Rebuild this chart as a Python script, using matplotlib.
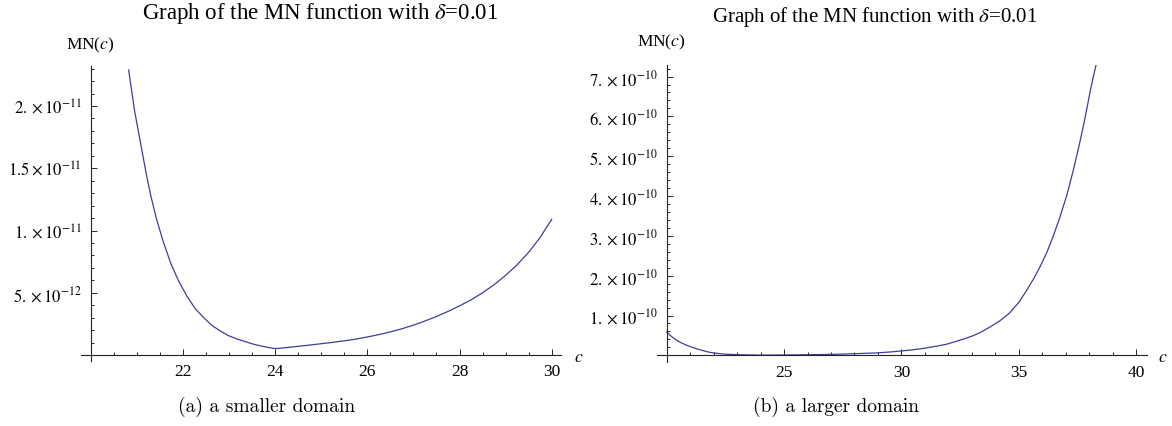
import matplotlib
matplotlib.use('Agg')
import matplotlib.pyplot as plt
from matplotlib.ticker import FixedLocator, FuncFormatter, MultipleLocator

# values
# (a) smaller domain, MN in units of 1e-12
c_small = [20.82, 20.95, 21.10, 21.20, 21.30, 21.42, 21.55, 21.73, 21.91, 22.09,
           22.27, 22.45, 22.62, 22.80, 22.98, 23.16, 23.34, 23.52, 23.70, 23.85,
           24.00, 24.25, 24.50, 24.75, 25.00, 25.25, 25.50, 25.75, 26.00, 26.25,
           26.50, 26.75, 27.00, 27.25, 27.50, 27.75, 28.00, 28.25, 28.50, 28.75,
           29.00, 29.25, 29.50, 29.75, 30.00]
mn_small = [22.9, 19.6, 16.6, 14.6, 12.8, 11.0, 9.35, 7.4, 5.9, 4.7,
            3.7, 3.0, 2.4, 1.95, 1.57, 1.30, 1.09, 0.88, 0.72, 0.61,
            0.51, 0.60, 0.70, 0.80, 0.91, 1.02, 1.14, 1.28, 1.45, 1.64,
            1.86, 2.11, 2.40, 2.73, 3.10, 3.50, 3.95, 4.43, 5.00, 5.65,
            6.40, 7.25, 8.25, 9.45, 10.9]

# (b) larger domain, MN in units of 1e-10
c_large = [20.0, 20.15, 20.3, 20.45, 20.6, 20.8, 21.0, 21.15, 21.3, 21.45,
           21.6, 21.8, 22.0, 22.25, 22.5, 23.0, 24.0, 25.0, 26.0, 27.0,
           28.0, 29.0, 29.5, 30.0, 30.5, 31.0, 31.5, 31.93, 32.3, 32.7,
           33.0, 33.35, 33.8, 34.2, 34.6, 35.0, 35.3, 35.62, 35.9, 36.19,
           36.47, 36.75, 37.05, 37.32, 37.55, 37.75, 37.9, 38.03, 38.16, 38.29]
mn_large = [0.585, 0.50, 0.43, 0.37, 0.32, 0.265, 0.22, 0.19, 0.16, 0.135,
            0.11, 0.08, 0.06, 0.043, 0.03, 0.016, 0.005, 0.009, 0.0145, 0.024,
            0.04, 0.063, 0.083, 0.11, 0.14, 0.18, 0.23, 0.28, 0.345, 0.42,
            0.48, 0.57, 0.72, 0.87, 1.06, 1.33, 1.60, 1.91, 2.22, 2.58,
            3.00, 3.47, 4.03, 4.65, 5.22, 5.76, 6.20, 6.60, 6.96, 7.29]

xticks_small = [22, 24, 26, 28, 30]
yticks_small = [5, 10, 15, 20]          # x 1e-12
xticks_large = [25, 30, 35, 40]
yticks_large = [1, 2, 3, 4, 5, 6, 7]    # x 1e-10

title = r'Graph of the MN function with $\delta$=0.01'
captions = ['(a) a smaller domain', '(b) a larger domain']

plt.rcParams['font.family'] = ['Liberation Serif', 'DejaVu Serif']
plt.rcParams['mathtext.fontset'] = 'stix'

W, H = 1172, 427
line_color = '#3d3d99'
axis_color = '#222222'


def fmt_small(v, pos):
    if abs(v - 5) < 1e-9:
        return r'$5.\times10^{-12}$'
    s = '%g' % (v / 10)
    if '.' not in s:
        s += '.'
    return r'$%s\times10^{-11}$' % s


def fmt_large(v, pos):
    return r'$%d.\times10^{-10}$' % round(v)


def style_axes(ax, xlim, ylim, xmajor, xminor, ymajor, yminor, yfmt):
    ax.set_xlim(*xlim)
    ax.set_ylim(*ylim)
    for s in ['top', 'right']:
        ax.spines[s].set_visible(False)
    ax.spines['left'].set_position(('data', 20))
    ax.spines['bottom'].set_position(('data', 0))
    for s in ['left', 'bottom']:
        ax.spines[s].set_color(axis_color)
        ax.spines[s].set_linewidth(0.8)
    ax.xaxis.set_major_locator(FixedLocator(xmajor))
    ax.xaxis.set_minor_locator(MultipleLocator(xminor))
    ax.yaxis.set_major_locator(FixedLocator(ymajor))
    ax.yaxis.set_minor_locator(MultipleLocator(yminor))
    ax.yaxis.set_major_formatter(FuncFormatter(yfmt))
    ax.tick_params(which='both', direction='in', color=axis_color, width=0.7)
    ax.tick_params(which='major', length=4.5)
    ax.tick_params(which='minor', length=2.5)
    ax.tick_params(axis='x', which='major', labelsize=12.5, pad=6)
    ax.tick_params(axis='y', which='major', labelsize=12, pad=6.5)
    ax.patch.set_visible(False)


fig = plt.figure(figsize=(W / 100, H / 100), dpi=100)

ax1 = fig.add_axes([80.7 / W, (H - 362) / H, 480 / W, 295.3 / H])
ax1.plot(c_small, mn_small, color=line_color, lw=0.9)
style_axes(ax1, (19.78, 30.195), (-0.48, 23.24), xticks_small, 0.5,
           yticks_small, 1, fmt_small)

ax2 = fig.add_axes([657.3 / W, (H - 362.7) / H, 489.7 / W, 296.7 / H])
ax2.plot(c_large, mn_large, color=line_color, lw=0.9)
style_axes(ax2, (19.6, 40.46), (-0.16, 7.29), xticks_large, 1,
           yticks_large, 0.2, fmt_large)

# titles
fig.text(320 / W, 1 - 14 / H, title, ha='center', va='center', fontsize=16.5)
fig.text(875 / W, 1 - 17 / H, title, ha='center', va='center', fontsize=15)

# axis labels in Mathematica style
fig.text(90 / W, 1 - 45 / H, r'MN($c$)', ha='center', va='center', fontsize=12.5)
fig.text(661 / W, 1 - 42 / H, r'MN($c$)', ha='center', va='center', fontsize=12.5)
fig.text(579 / W, 1 - 358 / H, r'$c$', ha='center', va='center', fontsize=13)
fig.text(1163 / W, 1 - 358 / H, r'$c$', ha='center', va='center', fontsize=13)

# captions
fig.text(267 / W, 1 - 407 / H, captions[0], ha='center', va='center',
         fontsize=14, family='cmr10')
fig.text(836 / W, 1 - 407 / H, captions[1], ha='center', va='center',
         fontsize=14, family='cmr10')

fig.savefig('out.png', dpi=100)
plt.close(fig)
